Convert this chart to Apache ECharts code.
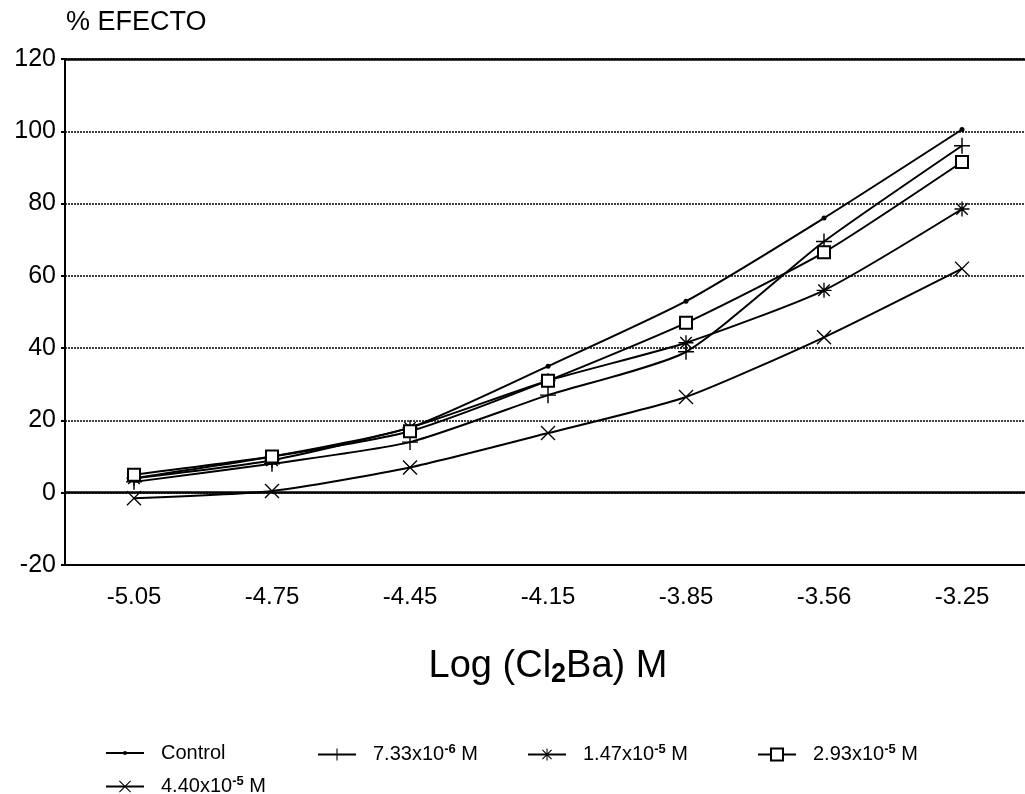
<!DOCTYPE html>
<html>
<head>
<meta charset="utf-8">
<script src="https://cdn.jsdelivr.net/npm/echarts@6/dist/echarts.min.js"></script>
<style>
  html, body { margin: 0; padding: 0; background: #fff; overflow: hidden; }
  #chart { width: 1031px; height: 794px; }
</style>
</head>
<body>
<div id="chart"></div>
<script>
// Log concentration of Cl2Ba (M)
const categories = ['-5.05', '-4.75', '-4.45', '-4.15', '-3.85', '-3.56', '-3.25'];

// % effect for each antagonist concentration
const control   = [4, 10, 18, 35, 53, 76, 100.5];
const c733e6    = [3, 8, 14, 27, 39, 69.5, 96];
const c147e5    = [4, 9, 18, 31, 41.5, 56, 78.5];
const c293e5    = [5, 10, 17, 31, 47, 66.5, 91.5];
const c440e5    = [-1.5, 0.5, 7, 16.5, 26.5, 43, 62];

const yTicks = [-20, 0, 20, 40, 60, 80, 100, 120];

const seriesNames = ['Control', '7.33x10-6 M', '1.47x10-5 M', '2.93x10-5 M', '4.40x10-5 M'];
const legendText = {
  'Control': 'Control',
  '7.33x10-6 M': '7.33x10{sup|-6} M',
  '1.47x10-5 M': '1.47x10{sup|-5} M',
  '2.93x10-5 M': '2.93x10{sup|-5} M',
  '4.40x10-5 M': '4.40x10{sup|-5} M'
};

// marker shapes built from thin filled bars
const plusPath = 'path://M9.1,0 H10.9 V20 H9.1 Z M0,9.1 H20 V10.9 H0 Z';
const crossPath = 'path://M1.3,0 L20,18.7 L18.7,20 L0,1.3 Z M18.7,0 L20,1.3 L1.3,20 L0,18.7 Z';
const starPath = 'path://M9.1,0 H10.9 V20 H9.1 Z M0,9.1 H20 V10.9 H0 Z M3,1.7 L18.3,17 L17,18.3 L1.7,3 Z M17,1.7 L18.3,3 L3,18.3 L1.7,17 Z';

const FONT = 'Liberation Sans, Arial, sans-serif';

function lineSeries(name, data, symbol, size, extra) {
  return Object.assign({
    name: name,
    type: 'line',
    data: data,
    smooth: 0.2,
    symbol: symbol,
    symbolSize: size,
    showSymbol: true,
    lineStyle: { color: '#000', width: 2 },
    itemStyle: { color: '#000' },
    z: 3
  }, extra || {});
}

const series = [
  lineSeries(seriesNames[0], control, 'circle', 5, {
    markLine: {
      silent: true,
      symbol: 'none',
      label: { show: false },
      lineStyle: { color: '#000', width: 2.5, type: 'solid' },
      data: [{ yAxis: 0 }, { yAxis: 120 }],
      z: 2
    }
  }),
  lineSeries(seriesNames[1], c733e6, plusPath, 16),
  lineSeries(seriesNames[2], c147e5, starPath, 15),
  lineSeries(seriesNames[3], c293e5, 'rect', 12, {
    itemStyle: { color: '#fff', borderColor: '#000', borderWidth: 2 }
  }),
  lineSeries(seriesNames[4], c440e5, crossPath, 15)
];

const legendRich = {
  sup: { fontSize: 13, fontWeight: 'bold', verticalAlign: 'top', padding: [0, 0, 10, 0], fontFamily: FONT, color: '#000' }
};

function legendAt(name, left, top, iconH) {
  return {
    data: [name],
    left: left,
    top: top,
    itemWidth: 38,
    itemHeight: iconH || 15,
    itemGap: 0,
    formatter: function (n) { return legendText[n]; },
    textStyle: { fontSize: 20, fontFamily: FONT, color: '#000', padding: [0, 0, 0, 12], rich: legendRich },
    selectedMode: false
  };
}

const chart = echarts.init(document.getElementById('chart'), null, { renderer: 'canvas' });
chart.setOption({
  backgroundColor: '#fff',
  animation: false,
  title: {
    text: '% EFECTO',
    left: 61,
    top: 4,
    textStyle: { fontSize: 27, fontWeight: 'normal', fontFamily: FONT, color: '#000' }
  },
  grid: {
    left: 65,
    top: 59,
    right: 0,
    bottom: 229,
    show: false
  },
  legend: [
    legendAt(seriesNames[0], 100, 738, 5),
    legendAt(seriesNames[1], 312, 738),
    legendAt(seriesNames[2], 522, 738),
    legendAt(seriesNames[3], 752, 738),
    legendAt(seriesNames[4], 100, 770)
  ],
  xAxis: {
    type: 'category',
    data: categories,
    boundaryGap: true,
    axisLine: { onZero: false, lineStyle: { color: '#000', width: 2 } },
    axisTick: { show: false },
    axisLabel: { fontSize: 24, fontFamily: FONT, color: '#000', margin: 20 },
    name: 'Log (Cl{sub|2}Ba) M',
    nameLocation: 'middle',
    nameGap: 80,
    nameTextStyle: {
      fontSize: 38, fontFamily: FONT, color: '#000',
      rich: { sub: { fontSize: 27, fontWeight: 'bold', fontFamily: FONT, color: '#000', verticalAlign: 'bottom', padding: [16, 0, 0, 0] } }
    }
  },
  yAxis: {
    type: 'value',
    min: -20,
    max: 120,
    interval: 20,
    axisLine: { show: true, lineStyle: { color: '#000', width: 2 } },
    axisTick: { show: true, length: 4, lineStyle: { color: '#000', width: 2 } },
    axisLabel: {
      fontSize: 25, fontFamily: FONT, color: '#000', margin: 9,
      formatter: function (v) { return yTicks.indexOf(v) >= 0 ? String(v) : ''; }
    },
    splitLine: { show: true, lineStyle: { color: '#000', width: 1.5, type: [2, 1] } }
  },
  series: series
});
</script>
</body>
</html>
